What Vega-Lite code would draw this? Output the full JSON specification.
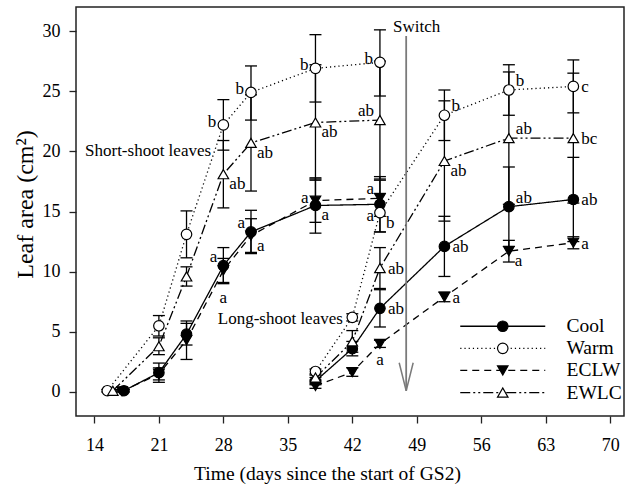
{
  "$schema": "https://vega.github.io/schema/vega-lite/v6.json",
  "autosize": {"type": "none"},
  "width": 548,
  "height": 409,
  "padding": {"left": 76, "top": 7, "right": 9, "bottom": 74},
  "background": "white",
  "config": {
    "view": {"stroke": "#222", "strokeWidth": 1.5},
    "font": "Liberation Serif",
    "axis": {
      "grid": false, "domain": false, "ticks": true, "tickColor": "#222", "tickWidth": 1.3, "tickSize": 7,
      "labelFont": "Liberation Serif", "labelFontSize": 18, "labelColor": "black",
      "titleFont": "Liberation Serif", "titleFontWeight": "normal", "titleColor": "black"
    }
  },
  "datasets": {
    "pts": [
      {"shoot": "S", "treatment": "Cool", "day": 17.2, "area": 0.1, "lo": 0.0, "hi": 0.2, "letter": "", "pos": ""},
      {"shoot": "S", "treatment": "Cool", "day": 21, "area": 1.6, "lo": 0.8, "hi": 2.4, "letter": "", "pos": ""},
      {"shoot": "S", "treatment": "Cool", "day": 24, "area": 4.8, "lo": 3.9, "hi": 5.7, "letter": "", "pos": ""},
      {"shoot": "S", "treatment": "Cool", "day": 28, "area": 10.5, "lo": 9.0, "hi": 12.0, "letter": "a", "pos": "LA"},
      {"shoot": "S", "treatment": "Cool", "day": 31, "area": 13.3, "lo": 11.5, "hi": 15.1, "letter": "a", "pos": "LA"},
      {"shoot": "S", "treatment": "Cool", "day": 38, "area": 15.5, "lo": 13.2, "hi": 17.8, "letter": "a", "pos": "RB"},
      {"shoot": "S", "treatment": "Cool", "day": 45, "area": 15.6, "lo": 13.3, "hi": 17.9, "letter": "a", "pos": "LB"},
      {"shoot": "S", "treatment": "Warm", "day": 15.4, "area": 0.1, "lo": 0.0, "hi": 0.2, "letter": "", "pos": ""},
      {"shoot": "S", "treatment": "Warm", "day": 21, "area": 5.5, "lo": 4.65, "hi": 6.35, "letter": "", "pos": ""},
      {"shoot": "S", "treatment": "Warm", "day": 24, "area": 13.1, "lo": 11.15, "hi": 15.05, "letter": "", "pos": ""},
      {"shoot": "S", "treatment": "Warm", "day": 28, "area": 22.2, "lo": 20.1, "hi": 24.3, "letter": "b", "pos": "L"},
      {"shoot": "S", "treatment": "Warm", "day": 31, "area": 24.9, "lo": 22.6, "hi": 27.1, "letter": "b", "pos": "L"},
      {"shoot": "S", "treatment": "Warm", "day": 38, "area": 26.9, "lo": 24.1, "hi": 29.7, "letter": "b", "pos": "L"},
      {"shoot": "S", "treatment": "Warm", "day": 45, "area": 27.4, "lo": 24.6, "hi": 30.1, "letter": "b", "pos": "L"},
      {"shoot": "S", "treatment": "ECLW", "day": 17, "area": 0.05, "lo": 0.0, "hi": 0.1, "letter": "", "pos": ""},
      {"shoot": "S", "treatment": "ECLW", "day": 21, "area": 1.5, "lo": 1.0, "hi": 2.0, "letter": "", "pos": ""},
      {"shoot": "S", "treatment": "ECLW", "day": 24, "area": 4.3, "lo": 2.7, "hi": 5.9, "letter": "", "pos": ""},
      {"shoot": "S", "treatment": "ECLW", "day": 28, "area": 10.1, "lo": 9.1, "hi": 11.1, "letter": "a", "pos": "B2"},
      {"shoot": "S", "treatment": "ECLW", "day": 31, "area": 13.0, "lo": 11.6, "hi": 14.4, "letter": "a", "pos": "RB"},
      {"shoot": "S", "treatment": "ECLW", "day": 38, "area": 15.9, "lo": 14.1, "hi": 17.7, "letter": "a", "pos": "L"},
      {"shoot": "S", "treatment": "ECLW", "day": 45, "area": 16.1, "lo": 14.6, "hi": 17.6, "letter": "a", "pos": "LA"},
      {"shoot": "S", "treatment": "EWLC", "day": 16, "area": 0.1, "lo": 0.0, "hi": 0.2, "letter": "", "pos": ""},
      {"shoot": "S", "treatment": "EWLC", "day": 21, "area": 3.8, "lo": 3.1, "hi": 4.5, "letter": "", "pos": ""},
      {"shoot": "S", "treatment": "EWLC", "day": 24, "area": 9.6, "lo": 8.8, "hi": 10.4, "letter": "", "pos": ""},
      {"shoot": "S", "treatment": "EWLC", "day": 28, "area": 18.1, "lo": 15.3, "hi": 20.9, "letter": "ab", "pos": "RB"},
      {"shoot": "S", "treatment": "EWLC", "day": 31, "area": 20.7, "lo": 16.7, "hi": 24.7, "letter": "ab", "pos": "RB"},
      {"shoot": "S", "treatment": "EWLC", "day": 38, "area": 22.4, "lo": 17.6, "hi": 27.2, "letter": "ab", "pos": "RB"},
      {"shoot": "S", "treatment": "EWLC", "day": 45, "area": 22.6, "lo": 17.7, "hi": 27.5, "letter": "ab", "pos": "LA"},
      {"shoot": "L", "treatment": "Cool", "day": 38, "area": 0.9, "lo": 0.6, "hi": 1.2, "letter": "", "pos": ""},
      {"shoot": "L", "treatment": "Cool", "day": 42, "area": 3.6, "lo": 3.0, "hi": 4.2, "letter": "", "pos": ""},
      {"shoot": "L", "treatment": "Cool", "day": 45, "area": 6.95, "lo": 5.4, "hi": 8.5, "letter": "ab", "pos": "R"},
      {"shoot": "L", "treatment": "Cool", "day": 52, "area": 12.1, "lo": 9.6, "hi": 14.6, "letter": "ab", "pos": "R"},
      {"shoot": "L", "treatment": "Cool", "day": 59, "area": 15.4, "lo": 12.1, "hi": 18.7, "letter": "ab", "pos": "RA"},
      {"shoot": "L", "treatment": "Cool", "day": 66, "area": 16.0, "lo": 12.5, "hi": 19.5, "letter": "ab", "pos": "R"},
      {"shoot": "L", "treatment": "Warm", "day": 38, "area": 1.7, "lo": 1.5, "hi": 1.9, "letter": "", "pos": ""},
      {"shoot": "L", "treatment": "Warm", "day": 42, "area": 6.2, "lo": 5.9, "hi": 6.5, "letter": "", "pos": ""},
      {"shoot": "L", "treatment": "Warm", "day": 45, "area": 14.9, "lo": 13.3, "hi": 16.5, "letter": "b", "pos": "RB"},
      {"shoot": "L", "treatment": "Warm", "day": 52, "area": 23.0, "lo": 20.9, "hi": 25.1, "letter": "b", "pos": "RA"},
      {"shoot": "L", "treatment": "Warm", "day": 59, "area": 25.1, "lo": 23.0, "hi": 27.2, "letter": "b", "pos": "RA"},
      {"shoot": "L", "treatment": "Warm", "day": 66, "area": 25.4, "lo": 23.2, "hi": 27.6, "letter": "c", "pos": "R"},
      {"shoot": "L", "treatment": "ECLW", "day": 38, "area": 0.5, "lo": 0.3, "hi": 0.7, "letter": "", "pos": ""},
      {"shoot": "L", "treatment": "ECLW", "day": 42, "area": 1.65, "lo": 1.3, "hi": 2.0, "letter": "", "pos": ""},
      {"shoot": "L", "treatment": "ECLW", "day": 45, "area": 4.0, "lo": 3.7, "hi": 4.3, "letter": "a", "pos": "B"},
      {"shoot": "L", "treatment": "ECLW", "day": 52, "area": 7.9, "lo": 7.5, "hi": 8.3, "letter": "a", "pos": "R"},
      {"shoot": "L", "treatment": "ECLW", "day": 59, "area": 11.7, "lo": 10.8, "hi": 12.6, "letter": "a", "pos": "RB"},
      {"shoot": "L", "treatment": "ECLW", "day": 66, "area": 12.4, "lo": 11.9, "hi": 12.9, "letter": "a", "pos": "R"},
      {"shoot": "L", "treatment": "EWLC", "day": 38, "area": 1.2, "lo": 1.0, "hi": 1.4, "letter": "", "pos": ""},
      {"shoot": "L", "treatment": "EWLC", "day": 42, "area": 4.2, "lo": 3.3, "hi": 5.1, "letter": "", "pos": ""},
      {"shoot": "L", "treatment": "EWLC", "day": 45, "area": 10.3, "lo": 8.6, "hi": 12.0, "letter": "ab", "pos": "R"},
      {"shoot": "L", "treatment": "EWLC", "day": 52, "area": 19.2, "lo": 14.2, "hi": 24.2, "letter": "ab", "pos": "RB"},
      {"shoot": "L", "treatment": "EWLC", "day": 59, "area": 21.1, "lo": 15.6, "hi": 26.6, "letter": "ab", "pos": "RA"},
      {"shoot": "L", "treatment": "EWLC", "day": 66, "area": 21.1, "lo": 15.7, "hi": 26.5, "letter": "bc", "pos": "R"}
    ],
    "notes": [
      {"day": 12.98, "area": 20.05, "label": "Short-shoot leaves"},
      {"day": 27.39, "area": 6.04, "label": "Long-shoot leaves"},
      {"day": 46.42, "area": 30.34, "label": "Switch"}
    ],
    "arrow": [
      {"day": 47.09, "area": 2.43, "k": 0},
      {"day": 47.85, "area": 0.1, "k": 1},
      {"day": 48.61, "area": 2.43, "k": 2}
    ]
  },
  "encoding": {
    "x": {"field": "day", "type": "quantitative",
      "scale": {"domain": [12, 71.5], "nice": false, "zero": false},
      "axis": {"values": [14, 21, 28, 35, 42, 49, 56, 63, 70], "title": "Time (days since the start of GS2)", "titleFontSize": 19.5, "labelPadding": 13, "titlePadding": 10, "titleX": 251, "titleAlign": "center"}},
    "y": {"field": "area", "type": "quantitative",
      "scale": {"domain": [-2, 32], "nice": false, "zero": false},
      "axis": {"values": [0, 5, 10, 15, 20, 25, 30], "title": "Leaf area (cm²)", "titleFontSize": 24, "labelPadding": 9, "titlePadding": 5, "titleY": 197, "titleAlign": "center"}}
  },
  "resolve": {"legend": {"strokeDash": "independent", "shape": "independent", "fill": "independent"}},
  "layer": [
    {
      "data": {"name": "pts"},
      "mark": {"type": "rule", "color": "black", "strokeWidth": 1.3},
      "encoding": {"y": {"field": "lo", "type": "quantitative",
        "axis": {"values": [0, 5, 10, 15, 20, 25, 30], "title": "Leaf area (cm²)", "titleFontSize": 24, "labelPadding": 9, "titlePadding": 5, "titleY": 197, "titleAlign": "center"}},
        "y2": {"field": "hi"}}
    },
    {
      "data": {"name": "pts"},
      "mark": {"type": "tick", "orient": "horizontal", "size": 12, "thickness": 1.3, "color": "black", "opacity": 1},
      "encoding": {"y": {"field": "lo", "type": "quantitative",
        "axis": {"values": [0, 5, 10, 15, 20, 25, 30], "title": "Leaf area (cm²)", "titleFontSize": 24, "labelPadding": 9, "titlePadding": 5, "titleY": 197, "titleAlign": "center"}}}
    },
    {
      "data": {"name": "pts"},
      "mark": {"type": "tick", "orient": "horizontal", "size": 12, "thickness": 1.3, "color": "black", "opacity": 1},
      "encoding": {"y": {"field": "hi", "type": "quantitative",
        "axis": {"values": [0, 5, 10, 15, 20, 25, 30], "title": "Leaf area (cm²)", "titleFontSize": 24, "labelPadding": 9, "titlePadding": 5, "titleY": 197, "titleAlign": "center"}}}
    },
    {
      "data": {"name": "pts"},
      "mark": {"type": "line", "color": "black", "strokeWidth": 1.3},
      "encoding": {
        "detail": {"field": "shoot"},
        "order": {"field": "day", "type": "quantitative"},
        "strokeDash": {"field": "treatment", "type": "nominal",
          "scale": {"domain": ["Cool", "Warm", "ECLW", "EWLC"], "range": [[1, 0], [1.2, 3], [7, 5], [10, 3, 2, 3, 2, 3]]},
          "legend": {"orient": "none", "legendX": 417, "legendY": 309.5, "title": null, "padding": 0,
            "symbolType": "M-8.5,0L8.5,0", "symbolSize": 100, "symbolStrokeWidth": 1.3, "symbolStrokeColor": "black",
            "labelFont": "Liberation Serif", "labelFontSize": 19.5, "labelColor": "black", "labelOffset": 54, "rowPadding": 1.1}}
      }
    },
    {
      "data": {"name": "pts"},
      "mark": {"type": "point", "filled": true, "stroke": "black", "strokeWidth": 1.2, "size": 110, "opacity": 1},
      "encoding": {
        "shape": {"field": "treatment", "type": "nominal",
          "scale": {"domain": ["Cool", "Warm", "ECLW", "EWLC"], "range": ["circle", "circle", "triangle-down", "triangle-up"]},
          "legend": {"orient": "none", "legendX": 417, "legendY": 309.5, "title": null, "padding": 0,
            "symbolSize": 110, "symbolStrokeWidth": 1.2, "symbolStrokeColor": "black", "symbolOpacity": 1,
            "labelFont": "Liberation Serif", "labelFontSize": 19.5, "labelOpacity": 0, "labelOffset": 54, "rowPadding": 1.1,
            "encode": {"symbols": {"update": {"stroke": {"value": "black"}, "strokeWidth": {"value": 1.2}, "opacity": {"value": 1}}}}}},
        "fill": {"field": "treatment", "type": "nominal",
          "scale": {"domain": ["Cool", "Warm", "ECLW", "EWLC"], "range": ["black", "white", "black", "white"]},
          "legend": {"orient": "none", "legendX": 417, "legendY": 309.5, "title": null, "padding": 0,
            "symbolSize": 110, "symbolStrokeWidth": 1.2, "symbolStrokeColor": "black", "symbolOpacity": 1,
            "labelFont": "Liberation Serif", "labelFontSize": 19.5, "labelOpacity": 0, "labelOffset": 54, "rowPadding": 1.1,
            "encode": {"symbols": {"update": {"stroke": {"value": "black"}, "strokeWidth": {"value": 1.2}, "opacity": {"value": 1}}}}}}
      }
    },
    {
      "data": {"name": "pts"}, "transform": [{"filter": "datum.pos === 'L'"}],
      "mark": {"type": "text", "align": "right", "baseline": "middle", "dx": -7, "dy": -3, "fontSize": 17, "font": "Liberation Serif", "color": "black"},
      "encoding": {"text": {"field": "letter"}}
    },
    {
      "data": {"name": "pts"}, "transform": [{"filter": "datum.pos === 'R'"}],
      "mark": {"type": "text", "align": "left", "baseline": "middle", "dx": 8, "dy": 1, "fontSize": 17, "font": "Liberation Serif", "color": "black"},
      "encoding": {"text": {"field": "letter"}}
    },
    {
      "data": {"name": "pts"}, "transform": [{"filter": "datum.pos === 'RB'"}],
      "mark": {"type": "text", "align": "left", "baseline": "middle", "dx": 6, "dy": 10, "fontSize": 17, "font": "Liberation Serif", "color": "black"},
      "encoding": {"text": {"field": "letter"}}
    },
    {
      "data": {"name": "pts"}, "transform": [{"filter": "datum.pos === 'RA'"}],
      "mark": {"type": "text", "align": "left", "baseline": "middle", "dx": 7, "dy": -9, "fontSize": 17, "font": "Liberation Serif", "color": "black"},
      "encoding": {"text": {"field": "letter"}}
    },
    {
      "data": {"name": "pts"}, "transform": [{"filter": "datum.pos === 'LA'"}],
      "mark": {"type": "text", "align": "right", "baseline": "middle", "dx": -6, "dy": -9, "fontSize": 17, "font": "Liberation Serif", "color": "black"},
      "encoding": {"text": {"field": "letter"}}
    },
    {
      "data": {"name": "pts"}, "transform": [{"filter": "datum.pos === 'LB'"}],
      "mark": {"type": "text", "align": "right", "baseline": "middle", "dx": -6, "dy": 12, "fontSize": 17, "font": "Liberation Serif", "color": "black"},
      "encoding": {"text": {"field": "letter"}}
    },
    {
      "data": {"name": "pts"}, "transform": [{"filter": "datum.pos === 'B'"}],
      "mark": {"type": "text", "align": "center", "baseline": "middle", "dx": 0, "dy": 16, "fontSize": 17, "font": "Liberation Serif", "color": "black"},
      "encoding": {"text": {"field": "letter"}}
    },
    {
      "data": {"name": "pts"}, "transform": [{"filter": "datum.pos === 'B2'"}],
      "mark": {"type": "text", "align": "center", "baseline": "middle", "dx": 0, "dy": 28, "fontSize": 17, "font": "Liberation Serif", "color": "black"},
      "encoding": {"text": {"field": "letter"}}
    },
    {
      "data": {"name": "notes"},
      "mark": {"type": "text", "align": "left", "baseline": "middle", "fontSize": 17, "font": "Liberation Serif", "color": "black"},
      "encoding": {"text": {"field": "label"}}
    },
    {
      "data": {"values": [{"day": 47.85, "area": 0.1, "top": 29.59}]},
      "mark": {"type": "rule", "color": "#7a7a7a", "strokeWidth": 1.8},
      "encoding": {"y2": {"field": "top"}}
    },
    {
      "data": {"name": "arrow"},
      "mark": {"type": "line", "color": "#7a7a7a", "strokeWidth": 1.5},
      "encoding": {"order": {"field": "k", "type": "quantitative"}}
    }
  ]
}
